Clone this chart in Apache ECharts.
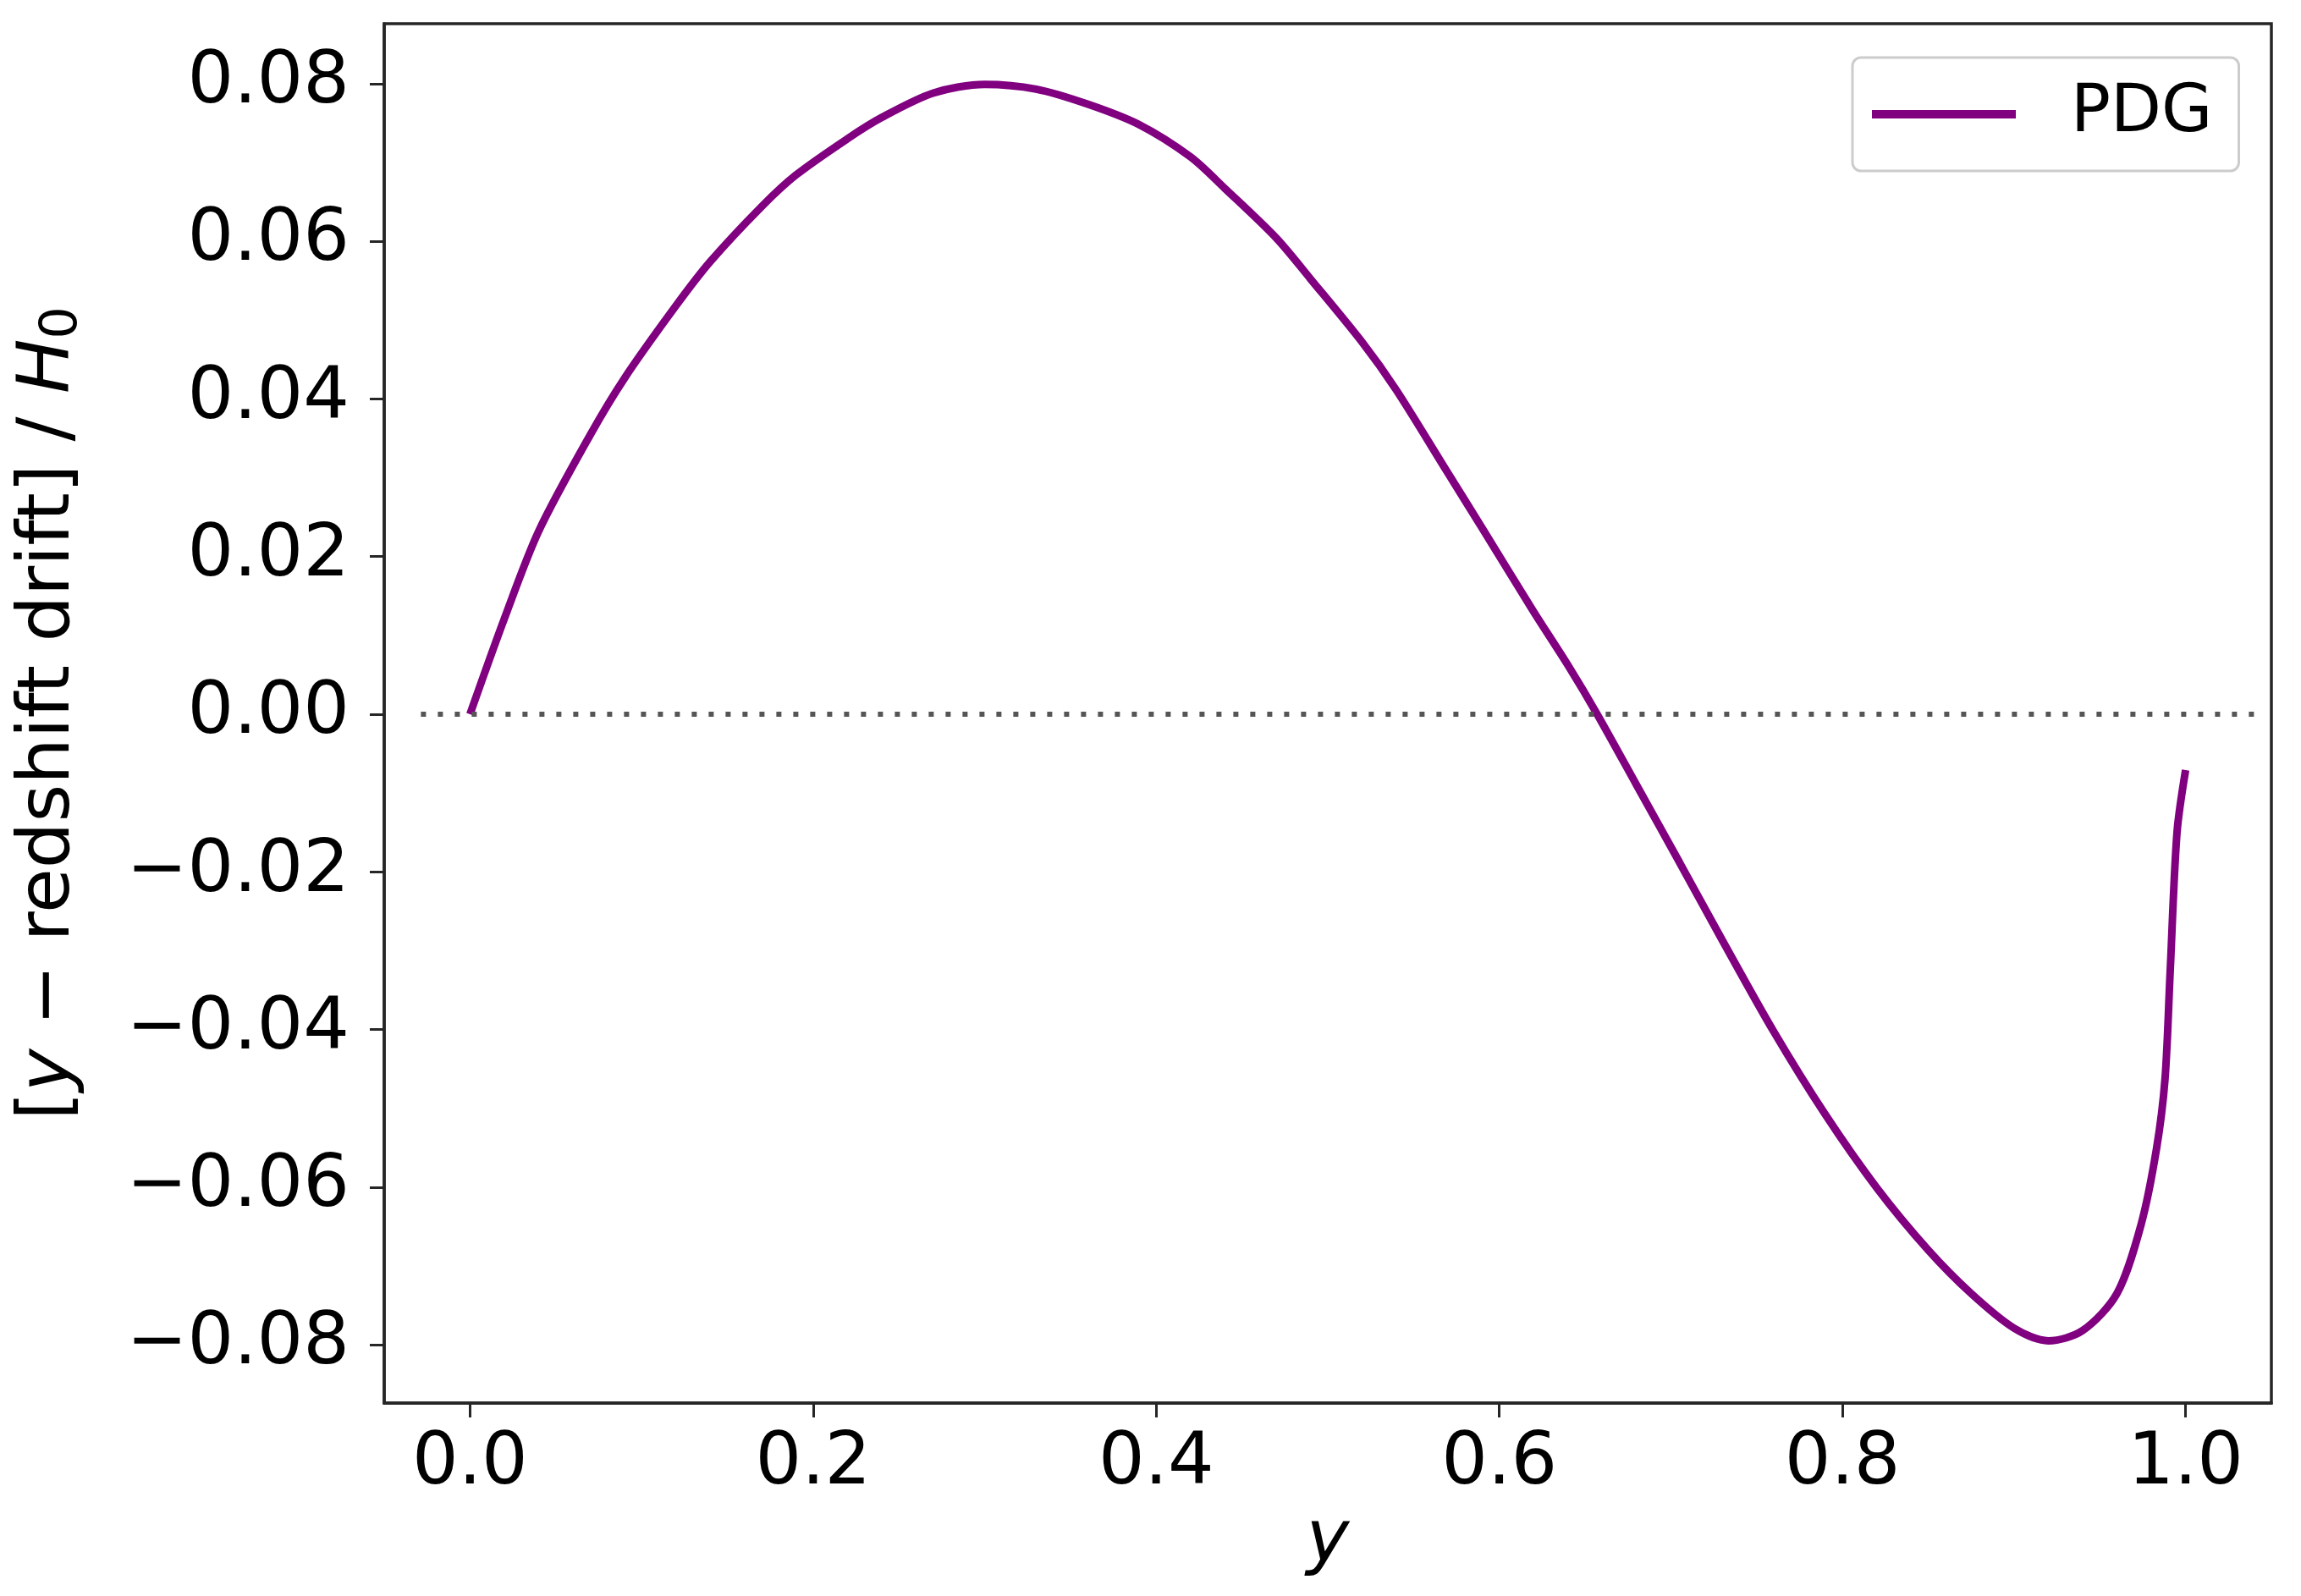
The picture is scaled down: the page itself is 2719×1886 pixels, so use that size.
<!DOCTYPE html>
<html>
<head>
<meta charset="utf-8">
<script src="https://cdn.jsdelivr.net/npm/echarts@6/dist/echarts.min.js"></script>
<style>
  html, body { margin: 0; padding: 0; background: #fff; }
  #chart { width: 2719px; height: 1886px; }
</style>
</head>
<body>
<div id="chart"></div>
<script>
var yVals = [0, 0.02, 0.04, 0.07, 0.09, 0.12, 0.14, 0.17, 0.19, 0.22, 0.24, 0.27, 0.30, 0.33,
  0.36, 0.39, 0.42, 0.44, 0.47, 0.49, 0.52, 0.54, 0.57, 0.59, 0.62, 0.64, 0.657, 0.68, 0.705,
  0.73, 0.76, 0.79, 0.82, 0.85, 0.875, 0.90, 0.92, 0.94, 0.96, 0.974, 0.983, 0.988, 0.991,
  0.995, 1.0]
var driftVals = [0, 0.0121, 0.0232, 0.0354, 0.0426, 0.0518, 0.0574, 0.0644, 0.0684, 0.0730,
  0.0757, 0.0788, 0.0799, 0.0793, 0.0774, 0.0748, 0.0707, 0.0667, 0.0604, 0.0552, 0.0472,
  0.0411, 0.0306, 0.0236, 0.0130, 0.0062, 0.0, -0.0090, -0.0188, -0.0287, -0.0403, -0.0508,
  -0.0601, -0.0680, -0.0735, -0.0779, -0.0795, -0.0782, -0.0735, -0.0648, -0.0552, -0.0463,
  -0.0327, -0.0150, -0.0071]
// dotted zero reference line
var zeroLineX = [-0.0286, 1.0433]
var zeroLineY = [0, 0]

var xTicks = [0, 0.2, 0.4, 0.6, 0.8, 1.0]
var yTicks = [-0.08, -0.06, -0.04, -0.02, 0, 0.02, 0.04, 0.06, 0.08]

var spineColor = '#262626'
var font = 'DejaVu Sans'

var chart = echarts.init(document.getElementById('chart'))

var curve = yVals.map(function (v, i) { return [v, driftVals[i]] })
var zero = zeroLineX.map(function (v, i) { return [v, zeroLineY[i]] })

chart.setOption({
  animation: false,
  grid: {
    left: 454,
    right: 35,
    top: 28,
    bottom: 228,
    show: true,
    borderColor: spineColor,
    borderWidth: 3.5
  },
  legend: {
    left: 2189,
    top: 68,
    padding: [22, 31, 22, 23],
    borderColor: '#cccccc',
    borderWidth: 3,
    borderRadius: 10,
    itemWidth: 170,
    itemHeight: 10,
    data: [{ name: 'PDG', icon: 'rect' }],
    textStyle: {
      fontFamily: font,
      fontSize: 78,
      color: '#000',
      padding: [0, 0, 0, 60],
      lineHeight: 90
    }
  },
  xAxis: {
    type: 'value',
    min: -0.05,
    max: 1.05,
    name: 'y',
    nameLocation: 'middle',
    nameGap: 106,
    nameTextStyle: { fontFamily: font, fontSize: 86, fontStyle: 'italic', color: '#000' },
    splitLine: { show: false },
    axisLine: { show: true, onZero: false, lineStyle: { color: spineColor, width: 3.5 } },
    axisTick: {
      customValues: xTicks,
      length: 17,
      lineStyle: { color: spineColor, width: 3 }
    },
    axisLabel: {
      customValues: xTicks,
      margin: 30,
      fontFamily: font,
      fontSize: 86,
      color: '#000',
      formatter: function (v) { return v.toFixed(1) }
    }
  },
  yAxis: {
    type: 'value',
    min: -0.0874,
    max: 0.0876,
    name: '[{i|y} − redshift drift] / {i|H}{s|0}',
    nameLocation: 'middle',
    nameRotate: 90,
    nameGap: 350,
    nameTextStyle: {
      fontFamily: font,
      fontSize: 86,
      color: '#000',
      rich: {
        i: { fontFamily: font, fontSize: 86, fontStyle: 'italic', color: '#000' },
        s: { fontFamily: font, fontSize: 60, color: '#000', verticalAlign: 'bottom', padding: [30, 0, 0, 0] }
      }
    },
    splitLine: { show: false },
    axisLine: { show: true, onZero: false, lineStyle: { color: spineColor, width: 3.5 } },
    axisTick: {
      customValues: yTicks,
      length: 17,
      lineStyle: { color: spineColor, width: 3 }
    },
    axisLabel: {
      customValues: yTicks,
      margin: 41,
      fontFamily: font,
      fontSize: 86,
      color: '#000',
      formatter: function (v) {
        var s = Math.abs(v).toFixed(2)
        return v < -1e-9 ? '−' + s : s
      }
    }
  },
  series: [
    {
      name: 'PDG',
      type: 'line',
      data: curve,
      showSymbol: false,
      symbol: 'none',
      smooth: 0.3,
      z: 2,
      itemStyle: { color: '#800080' },
      lineStyle: { color: '#800080', width: 9 }
    },
    {
      name: 'zero',
      type: 'line',
      data: zero,
      showSymbol: false,
      symbol: 'none',
      silent: true,
      z: 3,
      lineStyle: { color: '#555555', width: 6, type: [6, 14] }
    }
  ]
})
</script>
</body>
</html>
